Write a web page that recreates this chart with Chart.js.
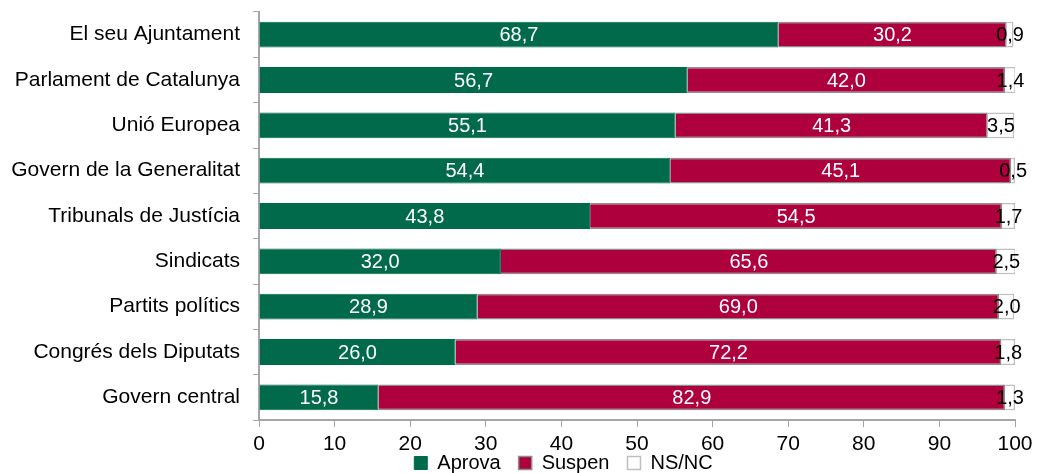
<!DOCTYPE html>
<html>
<head>
<meta charset="utf-8">
<script src="https://cdn.jsdelivr.net/npm/chart.js@4/dist/chart.umd.min.js"></script>
<style>
  html, body { margin: 0; padding: 0; background: #fff; }
  #wrap { width: 1042px; height: 473px; }
</style>
</head>
<body>
<div id="wrap"><canvas id="myChart" width="1042" height="473"></canvas></div>
<script>
const categories = [
    "El seu Ajuntament",
    "Parlament de Catalunya",
    "Unió Europea",
    "Govern de la Generalitat",
    "Tribunals de Justícia",
    "Sindicats",
    "Partits polítics",
    "Congrés dels Diputats",
    "Govern central",
];
const aprova = [68.7, 56.7, 55.1, 54.4, 43.8, 32.0, 28.9, 26.0, 15.8];
const suspen = [30.2, 42.0, 41.3, 45.1, 54.5, 65.6, 69.0, 72.2, 82.9];
const nsnc = [0.9, 1.4, 3.5, 0.5, 1.7, 2.5, 2.0, 1.8, 1.3];
const xTicks = [0, 10, 20, 30, 40, 50, 60, 70, 80, 90, 100];

const FONT = "Liberation Sans, Arial, sans-serif";
const GREY = "#a6a6a6";

// value labels drawn in the middle of every segment
const barLabels = {
    id: "barLabels",
    afterLayout(chart) {
        // let the x tick labels run into the legend's padding (no clipping)
        chart.scales.x.bottom = chart.scales.x.top + 40;
        // legend sits a bit right of the canvas centre in the original
        chart.legend.left += 56;
        chart.legend.right += 56;
    },
    afterDatasetsDraw(chart) {
        const ctx = chart.ctx;
        ctx.save();
        ctx.font = "20px " + FONT;
        ctx.textAlign = "center";
        ctx.textBaseline = "middle";
        chart.data.datasets.forEach((ds, i) => {
            const meta = chart.getDatasetMeta(i);
            meta.data.forEach((bar, j) => {
                const txt = ds.data[j].toFixed(1).replace(".", ",");
                const cx = (bar.x + bar.base) / 2;
                ctx.fillStyle = i === 2 ? "#000" : "#fff";
                ctx.fillText(txt, cx, bar.y + 1);
            });
        });
        ctx.restore();
    },
};

const ctx = document.getElementById("myChart").getContext("2d");
const myChart = new Chart(ctx, {
    type: "bar",
    data: {
        labels: categories,
        datasets: [
            {
                label: "Aprova",
                data: aprova,
                backgroundColor: "#006A4B",
                borderColor: "#006A4B",
                borderWidth: 1,
            },
            {
                label: "Suspen",
                data: suspen,
                backgroundColor: "#AD003D",
                borderColor: "#8c8c8c",
                borderWidth: 1.5,
            },
            {
                label: "NS/NC",
                data: nsnc,
                backgroundColor: "#ffffff",
                borderColor: "#bfbfbf",
                borderWidth: 1.5,
            },
        ],
    },
    options: {
        indexAxis: "y",
        responsive: false,
        animation: false,
        layout: { padding: { top: 12, right: 27, left: 0, bottom: -10 } },
        datasets: {
            bar: { barPercentage: 0.57, categoryPercentage: 1 },
        },
        scales: {
            x: {
                stacked: true,
                min: 0,
                max: 100,
                afterBuildTicks: (scale) => {
                    scale.ticks = xTicks.map((v) => ({ value: v }));
                },
                grid: {
                    drawOnChartArea: false,
                    drawTicks: true,
                    tickLength: 7,
                    color: GREY,
                },
                border: { color: GREY, width: 2 },
                ticks: {
                    color: "#000",
                    font: { family: FONT, size: 21 },
                    padding: 5,
                },
                afterFit: (scale) => {
                    scale.height = 15;
                    scale.paddingLeft = 0;
                    scale.paddingRight = 0;
                },
            },
            y: {
                stacked: true,
                grid: {
                    drawOnChartArea: false,
                    drawTicks: true,
                    tickLength: 6,
                    offset: true,
                    color: GREY,
                },
                border: { color: GREY, width: 2 },
                ticks: {
                    color: "#000",
                    font: { family: FONT, size: 21 },
                    padding: 13,
                },
                afterFit: (scale) => {
                    scale.width = 259;
                    scale.paddingTop = 0;
                    scale.paddingBottom = 0;
                },
            },
        },
        plugins: {
            legend: {
                position: "bottom",
                labels: {
                    color: "#000",
                    font: { family: FONT, size: 20 },
                    boxWidth: 13,
                    boxHeight: 13,
                    padding: 18,
                },
            },
            tooltip: { enabled: false },
        },
    },
    plugins: [barLabels],
});
</script>
</body>
</html>
